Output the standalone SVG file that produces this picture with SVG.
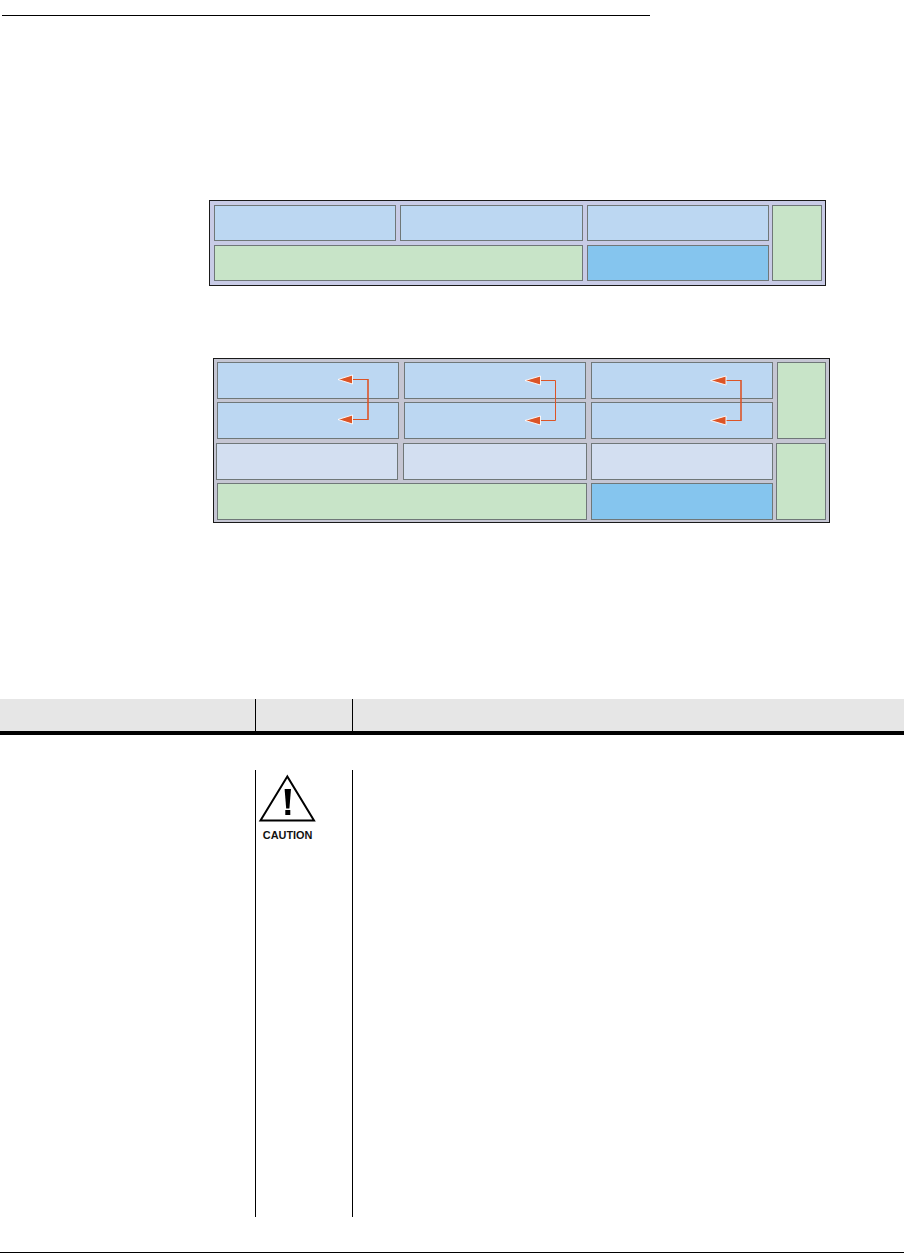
<svg xmlns="http://www.w3.org/2000/svg" width="904" height="1254" viewBox="0 0 904 1254">
<style>
.c{stroke:#6f7778;stroke-width:1}
.f{stroke:#1a1a1a;stroke-width:1}
.b{fill:#bcd7f2}.g{fill:#c8e4c8}.s{fill:#85c5ee}.p{fill:#d3dff1}
.w{fill:none;stroke:#dc5426;stroke-width:1}
.k{fill:none;stroke:#dc5426;stroke-width:1.6}
.h{fill:#dc5426;stroke:#fff;stroke-width:.9}
.r{stroke:#000;stroke-width:1;fill:none}
</style>
<rect width="904" height="1254" fill="#fff"/>
<path id="top-rule" class="r" d="M2 15.5H650"/>
<g id="frame-1">
<rect class="f" x="209.5" y="200.5" width="616" height="85" fill="#c8cbe6"/>
<rect class="c b" x="214.5" y="205.5" width="181" height="35"/>
<rect class="c b" x="400.5" y="205.5" width="182" height="35"/>
<rect class="c b" x="587.5" y="205.5" width="181" height="35"/>
<rect class="c g" x="772.5" y="205.5" width="49" height="75"/>
<rect class="c g" x="214.5" y="245.5" width="368" height="35"/>
<rect class="c s" x="587.5" y="245.5" width="181" height="35"/>
</g>
<g id="frame-2">
<rect class="f" x="213.5" y="358.5" width="616" height="164" fill="#c5c6d3"/>
<rect class="c b" x="217.5" y="362.5" width="181" height="36"/>
<rect class="c b" x="404.5" y="362.5" width="181" height="36"/>
<rect class="c b" x="591.5" y="362.5" width="181" height="36"/>
<rect class="c b" x="217.5" y="402.5" width="181" height="36"/>
<rect class="c b" x="404.5" y="402.5" width="181" height="36"/>
<rect class="c b" x="591.5" y="402.5" width="181" height="36"/>
<rect class="c g" x="777.5" y="362.5" width="48" height="76"/>
<rect class="c p" x="216.5" y="443.5" width="181" height="36"/>
<rect class="c p" x="403.5" y="443.5" width="183" height="36"/>
<rect class="c p" x="591.5" y="443.5" width="181" height="36"/>
<rect class="c g" x="776.5" y="443.5" width="49" height="76"/>
<rect class="c g" x="217.5" y="483.5" width="369" height="36"/>
<rect class="c s" x="591.5" y="483.5" width="181" height="36"/>
</g>
<g id="connectors">
<path class="w" d="M352 379.5H368M352 419.5H368"/><path class="k" d="M368 379V420"/>
<polygon class="h" points="338,379.5 352.5,375 352.5,384"/><polygon class="h" points="338,419.5 352.5,415 352.5,424"/>
<path class="w" d="M540 380.5H555.5V420.5H540"/>
<polygon class="h" points="525,380.5 540.5,376 540.5,385"/><polygon class="h" points="525,420.5 540.5,416 540.5,425"/>
<path class="w" d="M725 380.5H741M725 420.5H741"/><path class="k" d="M741 380V421"/>
<polygon class="h" points="710.5,380.5 726,376 726,385"/><polygon class="h" points="710.5,420.5 726,416 726,425"/>
</g>
<g id="table">
<rect x="0" y="699" width="904" height="32" fill="#e6e6e6"/>
<rect x="0" y="731" width="904" height="4" fill="#000"/>
<path class="r" d="M255.5 699V731M352.5 699V731M255.5 770V1217M352.5 770V1217"/>
</g>
<g id="caution">
<path d="M287.3 776.5L260.5 820.5H314Z" fill="#fff" stroke="#000" stroke-width="2" stroke-linejoin="miter"/>
<path d="M284.6 789H291L289.4 808.5H286.2Z" fill="#000"/>
<rect x="285.3" y="810" width="5" height="5" fill="#000"/>
<text x="287.6" y="838.8" text-anchor="middle" font-family="'Liberation Sans',Arial,sans-serif" font-weight="700" font-size="10.9" fill="#111">CAUTION</text>
</g>
<path id="bottom-rule" class="r" d="M0 1252.5H904"/>
</svg>
